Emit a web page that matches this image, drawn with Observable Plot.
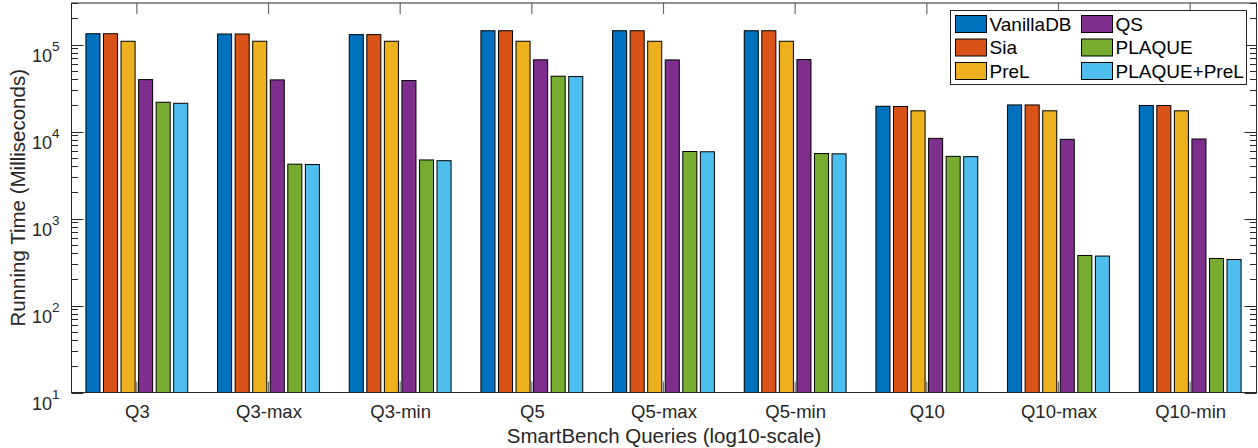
<!DOCTYPE html>
<html>
<head>
<meta charset="utf-8">
<script src="https://cdn.jsdelivr.net/npm/d3@7"></script>
<script src="https://cdn.jsdelivr.net/npm/@observablehq/plot@0.6"></script>
<style>
  body { margin: 0; background: #fff; }
</style>
</head>
<body>
<div id="chart"></div>
<script>
// SmartBench queries on the x axis, one group of bars per query
const queries = ["Q3", "Q3-max", "Q3-min", "Q5", "Q5-max", "Q5-min", "Q10", "Q10-max", "Q10-min"];
const seriesNames = ["VanillaDB", "Sia", "PreL", "QS", "PLAQUE", "PLAQUE+PreL"];

// Running time in milliseconds, one value per query
const vanillaDB  = [1.33e5, 1.32e5, 1.30e5, 1.44e5, 1.44e5, 1.44e5, 1.95e4, 2.02e4, 1.99e4];
const sia        = [1.33e5, 1.32e5, 1.30e5, 1.44e5, 1.44e5, 1.44e5, 1.94e4, 2.02e4, 1.99e4];
const preL       = [1.09e5, 1.09e5, 1.09e5, 1.09e5, 1.09e5, 1.09e5, 1.73e4, 1.73e4, 1.73e4];
const qs         = [3.95e4, 3.92e4, 3.85e4, 6.67e4, 6.65e4, 6.71e4, 8.34e3, 8.13e3, 8.20e3];
const plaque     = [2.17e4, 4.21e3, 4.71e3, 4.32e4, 5.89e3, 5.58e3, 5.18e3, 376, 347];
const plaquePreL = [2.11e4, 4.17e3, 4.62e3, 4.28e4, 5.85e3, 5.54e3, 5.14e3, 370, 338];

const yTicks = [10, 100, 1000, 10000, 100000];
const yDomain = [10, 3e5];

// MATLAB default colour order
const seriesColors = ["#0072BD", "#D95319", "#EDB120", "#7E2F8E", "#77AC30", "#4DBEEE"];

(function draw() {
  const valuesBySeries = [vanillaDB, sia, preL, qs, plaque, plaquePreL];
  const rows = queries.flatMap((q, i) =>
    seriesNames.map((s, j) => ({ query: q, series: s, value: valuesBySeries[j][i] }))
  );

  const font = "'Liberation Sans', Arial, Helvetica, sans-serif";
  const ink = "#262626";
  const W = 1258, H = 448;

  const chart = Plot.plot({
    width: W,
    height: H,
    marginLeft: 71,
    marginRight: 2,
    marginTop: 3,
    marginBottom: 55.5,
    style: { fontFamily: font, color: ink, background: "#fff", overflow: "visible" },
    fx: { domain: queries, padding: 0, round: false },
    x: { domain: seriesNames, paddingInner: 0.2, paddingOuter: 0.85, round: false, axis: null },
    y: { type: "log", domain: yDomain },
    color: { domain: seriesNames, range: seriesColors },
    marks: [
      Plot.barY(rows, {
        fx: "query", x: "series", y1: yDomain[0], y2: "value",
        fill: "series", stroke: "#000", strokeWidth: 1
      }),
      Plot.axisFx({ anchor: "bottom", tickSize: 0, tickPadding: 12, fontSize: 18.5, label: null }),
      Plot.axisY({
        anchor: "left", ticks: yTicks, tickSize: 0, tickPadding: 12, fontSize: 18,
        tickFormat: d => String(Math.round(Math.log10(d))), label: null
      })
    ]
  });

  document.getElementById("chart").appendChild(chart);

  const svg = d3.select(chart);
  const fx = chart.scale("fx");
  const y = chart.scale("y");
  const color = chart.scale("color");

  const xLeft = 71.5, xRight = W - 2 + 0.5;
  const yTop = y.apply(yDomain[1]), yBottom = y.apply(yDomain[0]);

  // Decade labels as 10 with a raised exponent
  svg.selectAll('g[aria-label="y-axis tick label"] text').each(function () {
    const t = d3.select(this);
    const exp = t.text();
    t.attr("dy", null).text(null);
    t.append("tspan").attr("dy", "11px").text("10");
    t.append("tspan").attr("dy", "-11px").attr("font-size", "13.5px").text(exp);
  });

  // Category ticks on the bottom edge sit behind the bars
  const under = svg.insert("g", ":first-child").attr("stroke", "#6a6a6a").attr("stroke-width", 1.2);
  queries.forEach(q => {
    const cx = fx.apply(q) + fx.bandwidth / 2;
    under.append("line").attr("x1", cx).attr("x2", cx).attr("y1", yBottom).attr("y2", yBottom - 11);
  });

  // Axes box with inward ticks
  const box = svg.append("g").attr("fill", "none").attr("stroke", ink).attr("stroke-width", 1);
  queries.forEach(q => {
    const cx = fx.apply(q) + fx.bandwidth / 2;
    box.append("line").attr("x1", cx).attr("x2", cx).attr("y1", yTop).attr("y2", yTop + 11)
      .attr("stroke", "#6a6a6a").attr("stroke-width", 1.2);
  });
  const minor = [];
  for (let e = 1; e <= 5; e++) for (let m = 2; m <= 9; m++) {
    const v = m * Math.pow(10, e);
    if (v <= yDomain[1]) minor.push(v);
  }
  yTicks.forEach(v => {
    const py = Math.round(y.apply(v)) + 0.5;
    box.append("line").attr("x1", xLeft).attr("x2", xLeft + 12).attr("y1", py).attr("y2", py);
    box.append("line").attr("x1", xRight).attr("x2", xRight - 12).attr("y1", py).attr("y2", py);
  });
  minor.forEach(v => {
    const py = Math.round(y.apply(v)) + 0.5;
    box.append("line").attr("x1", xLeft).attr("x2", xLeft + 6.5).attr("y1", py).attr("y2", py);
    box.append("line").attr("x1", xRight).attr("x2", xRight - 6.5).attr("y1", py).attr("y2", py);
  });
  box.append("rect").attr("x", xLeft).attr("y", yTop).attr("width", xRight - xLeft).attr("height", yBottom - yTop);

  // Axis titles
  svg.append("text")
    .attr("transform", `translate(25,${(yTop + yBottom) / 2}) rotate(-90)`)
    .attr("text-anchor", "middle").attr("font-size", "20.5px").attr("fill", ink)
    .text("Running Time (Milliseconds)");
  svg.append("text")
    .attr("x", (xLeft + xRight) / 2).attr("y", 443)
    .attr("text-anchor", "middle").attr("font-size", "20.5px").attr("fill", ink)
    .text("SmartBench Queries (log10-scale)");

  // Legend in two columns of three
  const legend = svg.append("g").attr("font-size", "19px").attr("text-anchor", "start");
  legend.append("rect").attr("x", 950.5).attr("y", 10.5).attr("width", 296).attr("height", 74)
    .attr("fill", "#fff").attr("stroke", ink);
  seriesNames.forEach((s, i) => {
    const col = Math.floor(i / 3), row = i % 3;
    const sx = col === 0 ? 955.5 : 1081.5;
    const cy = 24 + row * 23.5;
    legend.append("rect").attr("x", sx).attr("y", cy - 8.5).attr("width", 31).attr("height", 17)
      .attr("fill", color.apply(s)).attr("stroke", "#000");
    legend.append("text").attr("x", sx + 34).attr("y", cy + 6.8).attr("fill", "#000")
      .attr("text-anchor", "start").text(s);
  });
})();
</script>
</body>
</html>
